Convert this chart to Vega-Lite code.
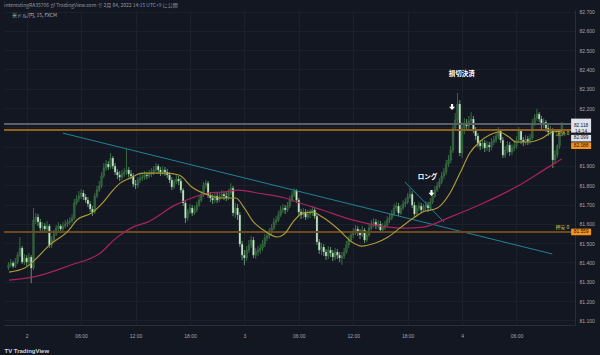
{
"$schema":"https://vega.github.io/schema/vega-lite/v6.json",
"width":571,"height":315,"autosize":"none",
"padding":{"left":4,"top":10,"right":25,"bottom":30},
"background":"#131722",
"title":{"text":"interestingRA35706 が TradingView.com で 2月 04, 2022 14:15 UTC+9 に公開","anchor":"start","frame":"group","offset":2,"fontSize":5,"font":"Noto Sans CJK JP","fontWeight":"normal","color":"#9598a1"},
"config":{"view":{"stroke":null,"fill":"#131722"},"font":"Liberation Sans"},
"datasets":{
"bars":[
{"i":0,"o":81.371,"h":81.402,"l":81.361,"c":81.387},{"i":1,"o":81.387,"h":81.418,"l":81.376,"c":81.397},{"i":2,"o":81.397,"h":81.407,"l":81.371,"c":81.381},{"i":3,"o":81.381,"h":81.423,"l":81.371,"c":81.402},{"i":4,"o":81.402,"h":81.454,"l":81.392,"c":81.438},{"i":5,"o":81.438,"h":81.532,"l":81.428,"c":81.475},{"i":6,"o":81.475,"h":81.485,"l":81.392,"c":81.402},{"i":7,"o":81.402,"h":81.444,"l":81.387,"c":81.423},{"i":8,"o":81.423,"h":81.438,"l":81.381,"c":81.402},{"i":9,"o":81.402,"h":81.449,"l":81.392,"c":81.428},
{"i":10,"o":81.428,"h":81.438,"l":81.293,"c":81.371},{"i":11,"o":81.371,"h":81.682,"l":81.361,"c":81.620},{"i":12,"o":81.620,"h":81.656,"l":81.599,"c":81.635},{"i":13,"o":81.635,"h":81.651,"l":81.589,"c":81.609},{"i":14,"o":81.609,"h":81.625,"l":81.563,"c":81.578},{"i":15,"o":81.578,"h":81.609,"l":81.563,"c":81.589},{"i":16,"o":81.589,"h":81.604,"l":81.558,"c":81.573},{"i":17,"o":81.573,"h":81.615,"l":81.563,"c":81.589},{"i":18,"o":81.589,"h":81.599,"l":81.475,"c":81.490},{"i":19,"o":81.490,"h":81.537,"l":81.475,"c":81.516},
{"i":20,"o":81.516,"h":81.568,"l":81.501,"c":81.547},{"i":21,"o":81.547,"h":81.594,"l":81.537,"c":81.578},{"i":22,"o":81.578,"h":81.609,"l":81.563,"c":81.589},{"i":23,"o":81.589,"h":81.599,"l":81.552,"c":81.573},{"i":24,"o":81.573,"h":81.609,"l":81.563,"c":81.589},{"i":25,"o":81.589,"h":81.620,"l":81.578,"c":81.599},{"i":26,"o":81.599,"h":81.625,"l":81.583,"c":81.609},{"i":27,"o":81.609,"h":81.635,"l":81.594,"c":81.615},{"i":28,"o":81.615,"h":81.651,"l":81.604,"c":81.630},{"i":29,"o":81.630,"h":81.729,"l":81.620,"c":81.708},
{"i":30,"o":81.708,"h":81.749,"l":81.697,"c":81.729},{"i":31,"o":81.729,"h":81.770,"l":81.713,"c":81.744},{"i":32,"o":81.744,"h":81.780,"l":81.729,"c":81.760},{"i":33,"o":81.760,"h":81.775,"l":81.723,"c":81.739},{"i":34,"o":81.739,"h":81.754,"l":81.708,"c":81.723},{"i":35,"o":81.723,"h":81.739,"l":81.687,"c":81.703},{"i":36,"o":81.703,"h":81.718,"l":81.661,"c":81.677},{"i":37,"o":81.677,"h":81.692,"l":81.640,"c":81.661},{"i":38,"o":81.661,"h":81.760,"l":81.651,"c":81.744},{"i":39,"o":81.744,"h":81.796,"l":81.734,"c":81.775},
{"i":40,"o":81.775,"h":81.822,"l":81.765,"c":81.796},{"i":41,"o":81.796,"h":81.868,"l":81.785,"c":81.848},{"i":42,"o":81.848,"h":81.915,"l":81.837,"c":81.889},{"i":43,"o":81.889,"h":81.931,"l":81.874,"c":81.910},{"i":44,"o":81.910,"h":81.925,"l":81.879,"c":81.894},{"i":45,"o":81.894,"h":81.967,"l":81.884,"c":81.941},{"i":46,"o":81.941,"h":81.951,"l":81.884,"c":81.899},{"i":47,"o":81.899,"h":81.915,"l":81.853,"c":81.868},{"i":48,"o":81.868,"h":81.884,"l":81.832,"c":81.853},{"i":49,"o":81.853,"h":81.874,"l":81.822,"c":81.842},
{"i":50,"o":81.842,"h":81.879,"l":81.827,"c":81.858},{"i":51,"o":81.858,"h":81.889,"l":81.842,"c":81.868},{"i":52,"o":81.868,"h":81.988,"l":81.853,"c":81.879},{"i":53,"o":81.879,"h":81.894,"l":81.842,"c":81.858},{"i":54,"o":81.858,"h":81.879,"l":81.832,"c":81.848},{"i":55,"o":81.848,"h":81.863,"l":81.791,"c":81.806},{"i":56,"o":81.806,"h":81.827,"l":81.780,"c":81.801},{"i":57,"o":81.801,"h":81.842,"l":81.785,"c":81.827},{"i":58,"o":81.827,"h":81.858,"l":81.811,"c":81.837},{"i":59,"o":81.837,"h":81.863,"l":81.822,"c":81.842},
{"i":60,"o":81.842,"h":81.874,"l":81.827,"c":81.853},{"i":61,"o":81.853,"h":81.868,"l":81.832,"c":81.848},{"i":62,"o":81.848,"h":81.879,"l":81.837,"c":81.858},{"i":63,"o":81.858,"h":81.889,"l":81.842,"c":81.868},{"i":64,"o":81.868,"h":81.899,"l":81.853,"c":81.879},{"i":65,"o":81.879,"h":81.915,"l":81.868,"c":81.899},{"i":66,"o":81.899,"h":81.910,"l":81.863,"c":81.879},{"i":67,"o":81.879,"h":81.894,"l":81.848,"c":81.868},{"i":68,"o":81.868,"h":81.899,"l":81.853,"c":81.879},{"i":69,"o":81.879,"h":81.894,"l":81.848,"c":81.868},
{"i":70,"o":81.868,"h":81.884,"l":81.837,"c":81.853},{"i":71,"o":81.853,"h":81.868,"l":81.811,"c":81.827},{"i":72,"o":81.827,"h":81.842,"l":81.775,"c":81.791},{"i":73,"o":81.791,"h":81.832,"l":81.780,"c":81.817},{"i":74,"o":81.817,"h":81.853,"l":81.806,"c":81.832},{"i":75,"o":81.832,"h":81.848,"l":81.801,"c":81.822},{"i":76,"o":81.822,"h":81.837,"l":81.760,"c":81.775},{"i":77,"o":81.775,"h":81.785,"l":81.692,"c":81.708},{"i":78,"o":81.708,"h":81.718,"l":81.604,"c":81.630},{"i":79,"o":81.630,"h":81.677,"l":81.615,"c":81.661},
{"i":80,"o":81.661,"h":81.703,"l":81.651,"c":81.682},{"i":81,"o":81.682,"h":81.697,"l":81.640,"c":81.656},{"i":82,"o":81.656,"h":81.692,"l":81.646,"c":81.672},{"i":83,"o":81.672,"h":81.713,"l":81.661,"c":81.697},{"i":84,"o":81.697,"h":81.744,"l":81.687,"c":81.723},{"i":85,"o":81.723,"h":81.770,"l":81.713,"c":81.749},{"i":86,"o":81.749,"h":81.817,"l":81.739,"c":81.801},{"i":87,"o":81.801,"h":81.827,"l":81.785,"c":81.811},{"i":88,"o":81.811,"h":81.822,"l":81.734,"c":81.749},{"i":89,"o":81.749,"h":81.765,"l":81.713,"c":81.734},
{"i":90,"o":81.734,"h":81.754,"l":81.703,"c":81.723},{"i":91,"o":81.723,"h":81.765,"l":81.708,"c":81.744},{"i":92,"o":81.744,"h":81.760,"l":81.708,"c":81.723},{"i":93,"o":81.723,"h":81.760,"l":81.713,"c":81.739},{"i":94,"o":81.739,"h":81.775,"l":81.729,"c":81.754},{"i":95,"o":81.754,"h":81.770,"l":81.723,"c":81.744},{"i":96,"o":81.744,"h":81.765,"l":81.718,"c":81.734},{"i":97,"o":81.734,"h":81.780,"l":81.723,"c":81.760},{"i":98,"o":81.760,"h":81.811,"l":81.749,"c":81.785},{"i":99,"o":81.785,"h":81.796,"l":81.640,"c":81.656},
{"i":100,"o":81.656,"h":81.708,"l":81.630,"c":81.682},{"i":101,"o":81.682,"h":81.703,"l":81.620,"c":81.646},{"i":102,"o":81.646,"h":81.661,"l":81.480,"c":81.495},{"i":103,"o":81.495,"h":81.511,"l":81.412,"c":81.438},{"i":104,"o":81.438,"h":81.464,"l":81.387,"c":81.423},{"i":105,"o":81.423,"h":81.485,"l":81.407,"c":81.464},{"i":106,"o":81.464,"h":81.516,"l":81.449,"c":81.490},{"i":107,"o":81.490,"h":81.537,"l":81.475,"c":81.516},{"i":108,"o":81.516,"h":81.532,"l":81.423,"c":81.438},{"i":109,"o":81.438,"h":81.475,"l":81.418,"c":81.454},
{"i":110,"o":81.454,"h":81.485,"l":81.433,"c":81.464},{"i":111,"o":81.464,"h":81.495,"l":81.444,"c":81.475},{"i":112,"o":81.475,"h":81.516,"l":81.459,"c":81.495},{"i":113,"o":81.495,"h":81.547,"l":81.480,"c":81.526},{"i":114,"o":81.526,"h":81.558,"l":81.511,"c":81.537},{"i":115,"o":81.537,"h":81.578,"l":81.521,"c":81.558},{"i":116,"o":81.558,"h":81.599,"l":81.542,"c":81.578},{"i":117,"o":81.578,"h":81.630,"l":81.568,"c":81.609},{"i":118,"o":81.609,"h":81.640,"l":81.594,"c":81.620},{"i":119,"o":81.620,"h":81.666,"l":81.609,"c":81.646},
{"i":120,"o":81.646,"h":81.692,"l":81.635,"c":81.672},{"i":121,"o":81.672,"h":81.703,"l":81.656,"c":81.682},{"i":122,"o":81.682,"h":81.697,"l":81.651,"c":81.672},{"i":123,"o":81.672,"h":81.713,"l":81.661,"c":81.692},{"i":124,"o":81.692,"h":81.744,"l":81.682,"c":81.723},{"i":125,"o":81.723,"h":81.770,"l":81.713,"c":81.749},{"i":126,"o":81.749,"h":81.785,"l":81.739,"c":81.770},{"i":127,"o":81.770,"h":81.780,"l":81.708,"c":81.723},{"i":128,"o":81.723,"h":81.734,"l":81.646,"c":81.661},{"i":129,"o":81.661,"h":81.677,"l":81.625,"c":81.646},
{"i":130,"o":81.646,"h":81.682,"l":81.630,"c":81.661},{"i":131,"o":81.661,"h":81.677,"l":81.620,"c":81.635},{"i":132,"o":81.635,"h":81.672,"l":81.625,"c":81.651},{"i":133,"o":81.651,"h":81.677,"l":81.630,"c":81.656},{"i":134,"o":81.656,"h":81.692,"l":81.640,"c":81.672},{"i":135,"o":81.672,"h":81.687,"l":81.625,"c":81.640},{"i":136,"o":81.640,"h":81.651,"l":81.490,"c":81.506},{"i":137,"o":81.506,"h":81.521,"l":81.444,"c":81.464},{"i":138,"o":81.464,"h":81.501,"l":81.438,"c":81.480},{"i":139,"o":81.480,"h":81.495,"l":81.433,"c":81.454},
{"i":140,"o":81.454,"h":81.469,"l":81.412,"c":81.433},{"i":141,"o":81.433,"h":81.485,"l":81.418,"c":81.464},{"i":142,"o":81.464,"h":81.480,"l":81.428,"c":81.449},{"i":143,"o":81.449,"h":81.464,"l":81.407,"c":81.428},{"i":144,"o":81.428,"h":81.475,"l":81.412,"c":81.454},{"i":145,"o":81.454,"h":81.469,"l":81.418,"c":81.438},{"i":146,"o":81.438,"h":81.454,"l":81.402,"c":81.423},{"i":147,"o":81.423,"h":81.454,"l":81.387,"c":81.433},{"i":148,"o":81.433,"h":81.475,"l":81.418,"c":81.454},{"i":149,"o":81.454,"h":81.511,"l":81.444,"c":81.490},
{"i":150,"o":81.490,"h":81.537,"l":81.475,"c":81.516},{"i":151,"o":81.516,"h":81.563,"l":81.506,"c":81.542},{"i":152,"o":81.542,"h":81.578,"l":81.526,"c":81.558},{"i":153,"o":81.558,"h":81.594,"l":81.542,"c":81.573},{"i":154,"o":81.573,"h":81.589,"l":81.537,"c":81.558},{"i":155,"o":81.558,"h":81.573,"l":81.521,"c":81.542},{"i":156,"o":81.542,"h":81.589,"l":81.532,"c":81.568},{"i":157,"o":81.568,"h":81.578,"l":81.501,"c":81.516},{"i":158,"o":81.516,"h":81.563,"l":81.506,"c":81.542},{"i":159,"o":81.542,"h":81.599,"l":81.532,"c":81.578},
{"i":160,"o":81.578,"h":81.620,"l":81.568,"c":81.599},{"i":161,"o":81.599,"h":81.630,"l":81.583,"c":81.609},{"i":162,"o":81.609,"h":81.625,"l":81.573,"c":81.589},{"i":163,"o":81.589,"h":81.620,"l":81.573,"c":81.599},{"i":164,"o":81.599,"h":81.615,"l":81.552,"c":81.568},{"i":165,"o":81.568,"h":81.604,"l":81.558,"c":81.583},{"i":166,"o":81.583,"h":81.615,"l":81.568,"c":81.594},{"i":167,"o":81.594,"h":81.640,"l":81.583,"c":81.620},{"i":168,"o":81.620,"h":81.651,"l":81.604,"c":81.630},{"i":169,"o":81.630,"h":81.672,"l":81.620,"c":81.651},
{"i":170,"o":81.651,"h":81.703,"l":81.640,"c":81.682},{"i":171,"o":81.682,"h":81.713,"l":81.666,"c":81.692},{"i":172,"o":81.692,"h":81.708,"l":81.640,"c":81.656},{"i":173,"o":81.656,"h":81.697,"l":81.646,"c":81.682},{"i":174,"o":81.682,"h":81.723,"l":81.672,"c":81.703},{"i":175,"o":81.703,"h":81.734,"l":81.687,"c":81.713},{"i":176,"o":81.713,"h":81.760,"l":81.703,"c":81.739},{"i":177,"o":81.739,"h":81.785,"l":81.729,"c":81.754},{"i":178,"o":81.754,"h":81.770,"l":81.682,"c":81.697},{"i":179,"o":81.697,"h":81.713,"l":81.635,"c":81.651},
{"i":180,"o":81.651,"h":81.697,"l":81.640,"c":81.682},{"i":181,"o":81.682,"h":81.713,"l":81.666,"c":81.692},{"i":182,"o":81.692,"h":81.708,"l":81.656,"c":81.672},{"i":183,"o":81.672,"h":81.703,"l":81.661,"c":81.687},{"i":184,"o":81.687,"h":81.718,"l":81.672,"c":81.697},{"i":185,"o":81.697,"h":81.713,"l":81.661,"c":81.682},{"i":186,"o":81.682,"h":81.734,"l":81.666,"c":81.713},{"i":187,"o":81.713,"h":81.765,"l":81.703,"c":81.744},{"i":188,"o":81.744,"h":81.796,"l":81.734,"c":81.775},{"i":189,"o":81.775,"h":81.817,"l":81.765,"c":81.796},
{"i":190,"o":81.796,"h":81.837,"l":81.785,"c":81.817},{"i":191,"o":81.817,"h":81.868,"l":81.806,"c":81.848},{"i":192,"o":81.848,"h":81.889,"l":81.832,"c":81.868},{"i":193,"o":81.868,"h":81.931,"l":81.853,"c":81.910},{"i":194,"o":81.910,"h":81.956,"l":81.894,"c":81.931},{"i":195,"o":81.931,"h":82.003,"l":81.915,"c":81.982},{"i":196,"o":81.982,"h":82.117,"l":81.967,"c":82.096},{"i":197,"o":82.096,"h":82.174,"l":82.081,"c":82.138},{"i":198,"o":82.138,"h":82.278,"l":82.122,"c":82.221},{"i":199,"o":82.221,"h":82.241,"l":81.951,"c":81.967},
{"i":200,"o":81.967,"h":82.127,"l":81.941,"c":82.096},{"i":201,"o":82.096,"h":82.148,"l":82.065,"c":82.117},{"i":202,"o":82.117,"h":82.143,"l":82.081,"c":82.107},{"i":203,"o":82.107,"h":82.159,"l":82.091,"c":82.133},{"i":204,"o":82.133,"h":82.179,"l":82.117,"c":82.143},{"i":205,"o":82.143,"h":82.159,"l":82.070,"c":82.086},{"i":206,"o":82.086,"h":82.102,"l":82.034,"c":82.055},{"i":207,"o":82.055,"h":82.070,"l":81.998,"c":82.019},{"i":208,"o":82.019,"h":82.034,"l":81.982,"c":82.003},{"i":209,"o":82.003,"h":82.039,"l":81.988,"c":82.019},
{"i":210,"o":82.019,"h":82.034,"l":81.972,"c":81.993},{"i":211,"o":81.993,"h":82.029,"l":81.977,"c":82.008},{"i":212,"o":82.008,"h":82.024,"l":81.972,"c":81.998},{"i":213,"o":81.998,"h":82.045,"l":81.982,"c":82.024},{"i":214,"o":82.024,"h":82.055,"l":82.008,"c":82.034},{"i":215,"o":82.034,"h":82.076,"l":82.019,"c":82.055},{"i":216,"o":82.055,"h":82.102,"l":82.039,"c":82.081},{"i":217,"o":82.081,"h":82.091,"l":82.019,"c":82.034},{"i":218,"o":82.034,"h":82.050,"l":81.941,"c":81.956},{"i":219,"o":81.956,"h":82.003,"l":81.941,"c":81.982},
{"i":220,"o":81.982,"h":82.029,"l":81.967,"c":82.008},{"i":221,"o":82.008,"h":82.024,"l":81.951,"c":81.972},{"i":222,"o":81.972,"h":82.013,"l":81.956,"c":81.993},{"i":223,"o":81.993,"h":82.024,"l":81.977,"c":82.003},{"i":224,"o":82.003,"h":82.055,"l":81.988,"c":82.034},{"i":225,"o":82.034,"h":82.102,"l":82.019,"c":82.081},{"i":226,"o":82.081,"h":82.091,"l":82.013,"c":82.034},{"i":227,"o":82.034,"h":82.050,"l":82.003,"c":82.024},{"i":228,"o":82.024,"h":82.060,"l":82.008,"c":82.039},{"i":229,"o":82.039,"h":82.055,"l":82.008,"c":82.029},
{"i":230,"o":82.029,"h":82.065,"l":82.013,"c":82.045},{"i":231,"o":82.045,"h":82.143,"l":82.034,"c":82.122},{"i":232,"o":82.122,"h":82.169,"l":82.107,"c":82.148},{"i":233,"o":82.148,"h":82.195,"l":82.133,"c":82.169},{"i":234,"o":82.169,"h":82.179,"l":82.127,"c":82.143},{"i":235,"o":82.143,"h":82.159,"l":82.091,"c":82.112},{"i":236,"o":82.112,"h":82.148,"l":82.096,"c":82.127},{"i":237,"o":82.127,"h":82.138,"l":82.076,"c":82.096},{"i":238,"o":82.096,"h":82.112,"l":82.055,"c":82.076},{"i":239,"o":82.076,"h":82.107,"l":82.060,"c":82.086},
{"i":240,"o":82.086,"h":82.096,"l":81.889,"c":81.931},{"i":241,"o":81.931,"h":81.982,"l":81.910,"c":81.956},{"i":242,"o":81.956,"h":82.013,"l":81.941,"c":82.003},{"i":243,"o":82.003,"h":82.091,"l":81.988,"c":82.081},{"i":244,"o":82.081,"h":82.127,"l":82.070,"c":82.118}
],
"ma1":[{"i":0.2,"v":81.350},{"i":7.1,"v":81.371},{"i":11.5,"v":81.412},{"i":18,"v":81.490},{"i":26.6,"v":81.568},{"i":30.1,"v":81.620},{"i":36.6,"v":81.656},{"i":41.8,"v":81.713},{"i":46.1,"v":81.775},{"i":49.2,"v":81.811},{"i":53.5,"v":81.837},{"i":59.1,"v":81.863},{"i":69.1,"v":81.863},{"i":75.2,"v":81.853},{"i":80.8,"v":81.791},{"i":88.2,"v":81.749},{"i":93.8,"v":81.734},{"i":100.3,"v":81.734},{"i":103.7,"v":81.687},{"i":108.1,"v":81.609},{"i":112.4,"v":81.568},{"i":118.5,"v":81.532},{"i":122,"v":81.552},{"i":125.4,"v":81.609},{"i":129.8,"v":81.656},{"i":134.1,"v":81.661},{"i":138.4,"v":81.635},{"i":145.8,"v":81.568},{"i":151.4,"v":81.506},{"i":155.7,"v":81.485},{"i":161.8,"v":81.501},{"i":167.4,"v":81.532},{"i":173.1,"v":81.583},{"i":179.2,"v":81.635},{"i":182.6,"v":81.661},{"i":189.1,"v":81.682},{"i":194.7,"v":81.760},{"i":199.1,"v":81.863},{"i":203.4,"v":81.967},{"i":207.7,"v":82.024},{"i":212.1,"v":82.060},{"i":216.4,"v":82.076},{"i":220.7,"v":82.050},{"i":223.8,"v":82.024},{"i":229.4,"v":82.024},{"i":235.5,"v":82.045},{"i":239.8,"v":82.076},{"i":244,"v":82.081}],
"ma2":[{"i":0.2,"v":81.309},{"i":10.6,"v":81.324},{"i":27.5,"v":81.387},{"i":40.5,"v":81.449},{"i":47.4,"v":81.526},{"i":54.8,"v":81.583},{"i":61.3,"v":81.609},{"i":73.4,"v":81.697},{"i":80.8,"v":81.734},{"i":88.2,"v":81.760},{"i":95.1,"v":81.765},{"i":101.2,"v":81.775},{"i":109.8,"v":81.760},{"i":122,"v":81.734},{"i":128.5,"v":81.708},{"i":138.4,"v":81.672},{"i":148.8,"v":81.630},{"i":157.5,"v":81.604},{"i":167.4,"v":81.583},{"i":174.8,"v":81.578},{"i":182.6,"v":81.583},{"i":194.7,"v":81.635},{"i":209.5,"v":81.708},{"i":223.8,"v":81.791},{"i":238.1,"v":81.894},{"i":244,"v":81.936}],
"trend":[{"g":"a","i":24.0,"p":82.070},{"g":"a","i":239.8,"p":81.444},{"g":"b","i":174.8,"p":81.817},{"g":"b","i":192.1,"p":81.609}],
"notes":[{"i":199.9,"p":82.376,"t":"損切決済"},{"i":184.8,"p":81.842,"t":"ロング"}],
"arrows":[{"i":195.6,"p":82.205},{"i":186.5,"p":81.760}],
"tagbig":[{"p":82.109,"t":"82.118\n14:14"}],
"tags":[{"p":82.044,"t":"82.099","k":"ma"},{"p":82.005,"t":"82.088","k":"line"},{"p":81.558,"t":"81.559","k":"line"}],
"linelabels":[{"p":82.072,"t":"決済 0"},{"p":81.584,"t":"押安 0"}]
},
"layer":[
{"data":{"name":"bars"},"mark":{"type":"rule","strokeWidth":0.8},
 "encoding":{
  "x":{"field":"i","type":"quantitative","scale":{"domain":[0.2,247.6],"nice":false,"zero":false},
   "axis":{"values":[8,32,56,80,104,128,152,176,200,224],"tickCount":20,"labelExpr":"(datum.value-8)%96==0 ? ''+(2+(datum.value-8)/96) : ((datum.value-8)%96==24 ? '06:00' : ((datum.value-8)%96==48 ? '12:00' : '18:00'))","ticks":false,"domainColor":"#2a2e39","labelColor":"#a3a6af","labelFontSize":5,"labelPadding":8,"labelFlush":false,"labelOverlap":false,"grid":true,"gridColor":"#1c202b","title":"TV TradingView","titleX":0,"titleY":25,"titleAlign":"left","titleBaseline":"middle","titleFontSize":6,"titleFontWeight":"bold","titleColor":"#d1d4dc"}},
  "y":{"field":"l","type":"quantitative","scale":{"domain":[81.076,82.708],"nice":false,"zero":false},
   "axis":{"orient":"right","values":[81.1,81.2,81.3,81.4,81.5,81.6,81.7,81.8,81.9,82.0,82.1,82.2,82.3,82.4,82.5,82.6,82.7],"tickCount":30,"format":".3f","labelExpr":"abs(datum.value-82.0)<0.001 || abs(datum.value-82.1)<0.001 ? '' : datum.label","ticks":false,"domainColor":"#2a2e39","labelColor":"#a3a6af","labelFontSize":5,"labelPadding":4,"labelFlush":false,"labelOverlap":false,"grid":true,"gridColor":"#1c202b","title":null}},
  "y2":{"field":"h"},
  "color":{"condition":{"test":"datum.c>=datum.o","value":"#3f7f48"},"value":"#78b083"}
 }},
{"data":{"name":"bars"},"mark":{"type":"bar","size":1.8,"stroke":"#4f8f58","strokeWidth":0.3},
 "encoding":{"x":{"field":"i","type":"quantitative"},"y":{"field":"o","type":"quantitative"},"y2":{"field":"c"},
  "color":{"condition":{"test":"datum.c>=datum.o","value":"#2c5e36"},"value":"#d4ecd4"}}},
{"data":{"name":"trend"},"mark":{"type":"line","color":"#2190a6","strokeWidth":0.9},
 "encoding":{"x":{"field":"i","type":"quantitative"},"y":{"field":"p","type":"quantitative"},"detail":{"field":"g"}}},
{"data":{"name":"bars"},"mark":{"type":"rule","color":"#5d606b","strokeWidth":0.8},"encoding":{"y":{"datum":82.118}}},
{"data":{"name":"bars"},"mark":{"type":"rule","color":"#94621f","strokeWidth":0.9},"encoding":{"y":{"datum":82.088}}},
{"data":{"name":"bars"},"mark":{"type":"rule","color":"#6b4a1f","strokeWidth":1.6},"encoding":{"y":{"datum":81.559}}},
{"data":{"name":"ma2"},"mark":{"type":"line","color":"#a8235a","strokeWidth":1.2,"interpolate":"monotone"},
 "encoding":{"x":{"field":"i","type":"quantitative"},"y":{"field":"v","type":"quantitative"}}},
{"data":{"name":"ma1"},"mark":{"type":"line","color":"#ab9a33","strokeWidth":1.2,"interpolate":"monotone"},
 "encoding":{"x":{"field":"i","type":"quantitative"},"y":{"field":"v","type":"quantitative"}}},
{"data":{"name":"notes"},"mark":{"type":"text","color":"#ffffff","fontSize":6.5,"fontWeight":"bold","font":"Noto Sans CJK JP"},
 "encoding":{"x":{"field":"i","type":"quantitative"},"y":{"field":"p","type":"quantitative"},"text":{"field":"t"}}},
{"data":{"name":"arrows"},"mark":{"type":"point","filled":true,"opacity":1,"color":"#ffffff","size":36,"shape":"M-0.35,-1L0.35,-1L0.35,-0.1L1,-0.1L0,1L-1,-0.1L-0.35,-0.1Z"},
 "encoding":{"x":{"field":"i","type":"quantitative"},"y":{"field":"p","type":"quantitative"}}},
{"data":{"values":[{"t":"米ドル/円, 15, FXCM"}]},"mark":{"type":"text","align":"left","color":"#b2b5be","fontSize":5,"font":"Noto Sans CJK JP"},
 "encoding":{"x":{"datum":1.5},"y":{"datum":82.682},"text":{"field":"t"}}},
{"data":{"name":"linelabels"},"mark":{"type":"text","align":"right","color":"#d6c44a","fontSize":5,"font":"Noto Sans CJK JP"},
 "encoding":{"x":{"datum":247.3},"y":{"field":"p","type":"quantitative"},"text":{"field":"t"}}},
{"data":{"name":"tags"},"mark":{"type":"point","filled":true,"opacity":1,"size":400,"shape":"M-1,-0.33H1V0.33H-1Z"},
 "encoding":{"x":{"datum":252.5},"y":{"field":"p","type":"quantitative"},"fill":{"field":"k","type":"nominal","scale":{"domain":["ma","line"],"range":["#e0e3eb","#f7931a"]},"legend":null}}},
{"data":{"name":"tagbig"},"mark":{"type":"point","filled":true,"opacity":1,"size":400,"color":"#e0e3eb","shape":"M-1,-0.7H1V0.7H-1Z"},
 "encoding":{"x":{"datum":252.5},"y":{"field":"p","type":"quantitative"}}},
{"data":{"name":"tags"},"mark":{"type":"text","color":"#131722","fontSize":4.8},
 "encoding":{"x":{"datum":252.5},"y":{"field":"p","type":"quantitative"},"text":{"field":"t"}}},
{"data":{"name":"tagbig"},"mark":{"type":"text","color":"#131722","fontSize":4.8,"lineBreak":"\n","lineHeight":6.5},
 "encoding":{"x":{"datum":252.5},"y":{"field":"p","type":"quantitative"},"text":{"field":"t"}}}
]
}
